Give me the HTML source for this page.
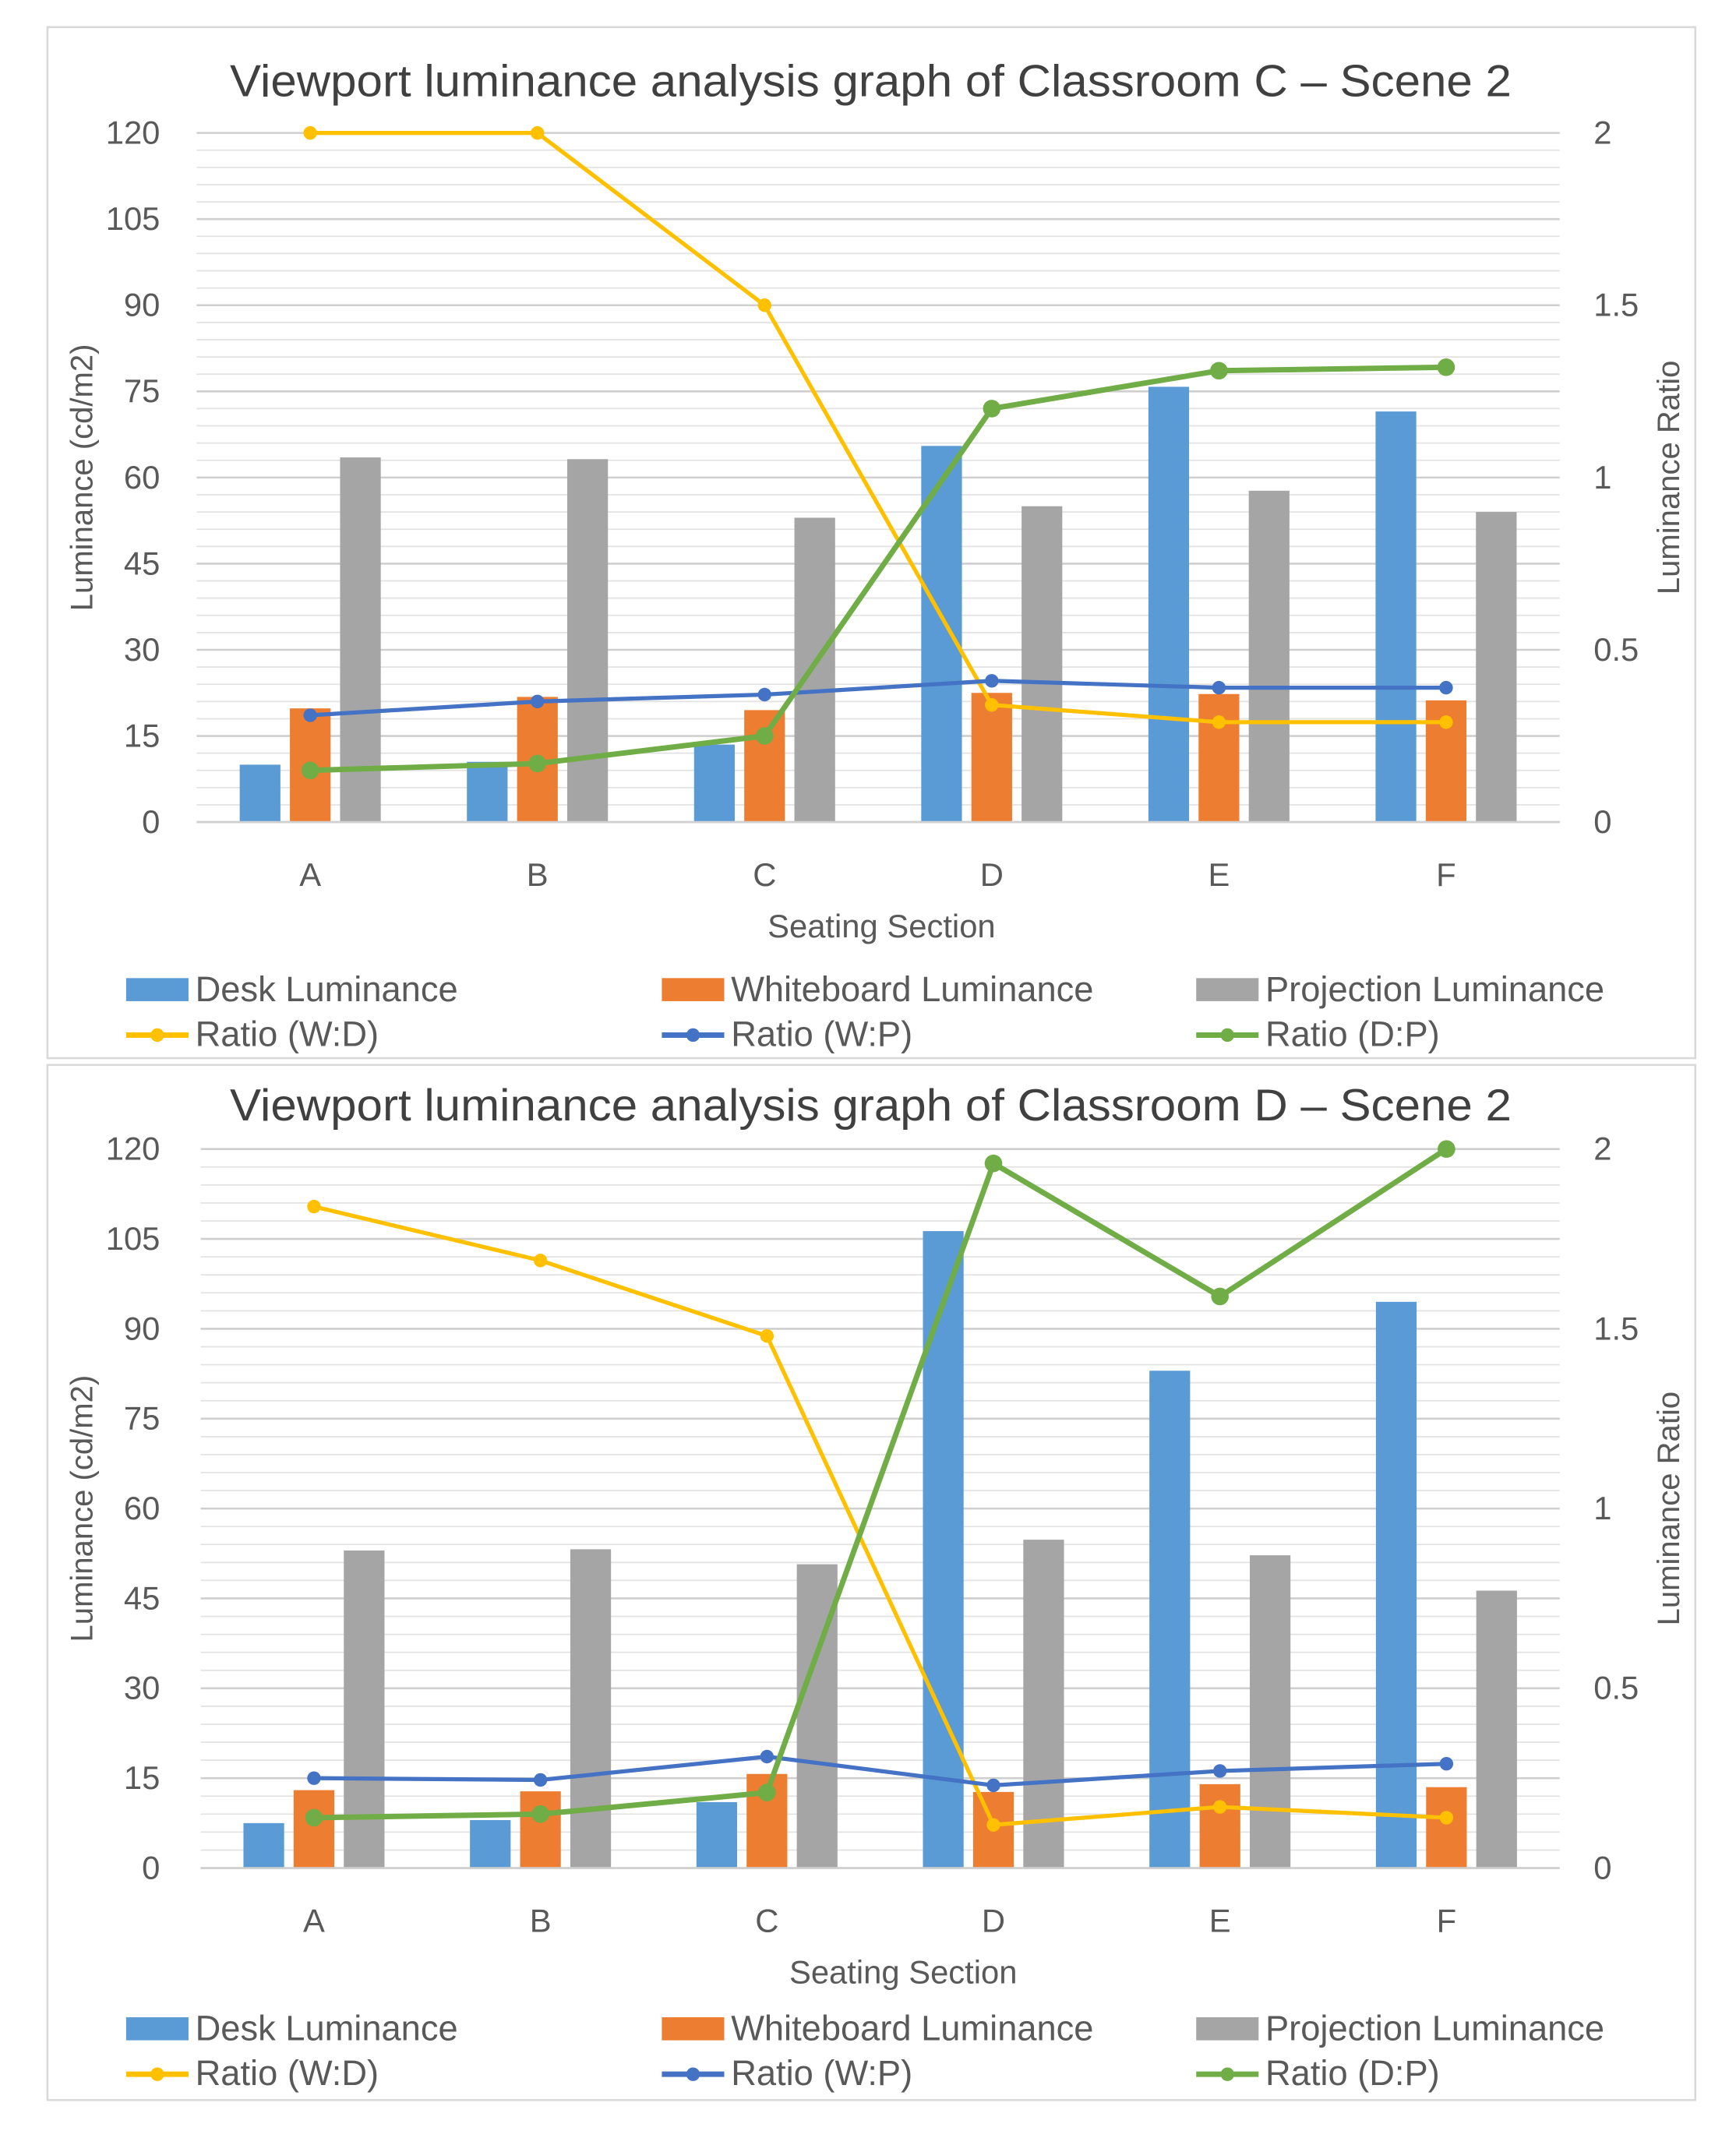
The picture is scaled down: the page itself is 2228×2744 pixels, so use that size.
<!DOCTYPE html>
<html><head><meta charset="utf-8">
<style>
html,body{margin:0;padding:0;background:#fff;}
svg{display:block;font-family:"Liberation Sans Narrow","Liberation Sans",sans-serif;}
</style></head>
<body>
<svg id="root" width="2228" height="2744" viewBox="0 0 1280 1576" preserveAspectRatio="none" xmlns="http://www.w3.org/2000/svg"></svg>
<script>
const categories = ["A","B","C","D","E","F"];
const c1Desk = [10, 10.5, 13.5, 65.5, 75.8, 71.5];
const c1White = [19.8, 21.8, 19.5, 22.5, 22.3, 21.2];
const c1Proj = [63.5, 63.2, 53, 55, 57.7, 54];
const c1WD = [2, 2, 1.5, 0.34, 0.29, 0.29];
const c1WP = [0.31, 0.35, 0.37, 0.41, 0.39, 0.39];
const c1DP = [0.15, 0.17, 0.25, 1.2, 1.31, 1.32];
const c2Desk = [7.5, 8, 11, 106.3, 83, 94.5];
const c2White = [13, 12.8, 15.7, 12.7, 14, 13.5];
const c2Proj = [53, 53.2, 50.7, 54.8, 52.2, 46.3];
const c2WD = [1.84, 1.69, 1.48, 0.12, 0.17, 0.14];
const c2WP = [0.25, 0.245, 0.31, 0.23, 0.27, 0.29];
const c2DP = [0.14, 0.15, 0.21, 1.96, 1.59, 2.0];
const leftTicks = [0,15,30,45,60,75,90,105,120];
const rightTicks = ["0","0.5","1","1.5","2"];

const NS="http://www.w3.org/2000/svg";
const root=document.getElementById('root');
function mk(tag,attrs,parent,text){const e=document.createElementNS(NS,tag);for(const k in attrs)e.setAttribute(k,attrs[k]);if(text!==undefined)e.textContent=text;parent.appendChild(e);return e;}

function chart(cfg){
  const g=mk('g',{},root);
  
  
  const box=mk('rect',{x:cfg.bx,y:cfg.by,width:1215,height:cfg.bh,fill:'#fff',stroke:'#d9d9d9','stroke-width':1.5},g);
  
  
  const t=mk('text',{x:642,y:cfg.titleY,'text-anchor':'middle','font-size':33,fill:'#404040',textLength:945,lengthAdjust:'spacingAndGlyphs'},g,cfg.title);
  
  
  const L=cfg.px0,R=1150,T=cfg.pyT,B=cfg.pyB;
  const yL=v=>B-(v/120)*(B-T);
  const yR=v=>B-(v/2)*(B-T);
  const step=(R-L)/6;
  const xc=i=>L+step*(i+0.5);
  for(let v=0;v<=120;v+=3){
    const ln=mk('line',{x1:L,x2:R,y1:yL(v),y2:yL(v),stroke:v%15===0?'#cfcfcf':'#e2e2e2','stroke-width':v%15===0?1.5:1},g);
    
    
  }
  leftTicks.forEach(v=>{
    const e=mk('text',{x:118,y:yL(v)+8,'text-anchor':'end','font-size':24,fill:'#595959'},g,String(v));
    
    
  });
  rightTicks.forEach(s=>{
    const e=mk('text',{x:1175,y:yR(parseFloat(s))+8,'text-anchor':'start','font-size':24,fill:'#595959'},g,s);
    
    
  });
  const yt=mk('text',{x:0,y:0,'text-anchor':'middle','font-size':23,fill:'#595959','font-family':'Liberation Sans, sans-serif',transform:`translate(68,${(T+B)/2}) rotate(-90)`},g,'Luminance (cd/m2)');
  
  
  const rt=mk('text',{x:0,y:0,'text-anchor':'middle','font-size':23,fill:'#595959','font-family':'Liberation Sans, sans-serif',transform:`translate(1238,${(T+B)/2}) rotate(-90)`},g,'Luminance Ratio');
  
  
  const series=[[cfg.desk,'#5b9bd5',-37,'desk-bar'],[cfg.white,'#ed7d31',0,'whiteboard-bar'],[cfg.proj,'#a5a5a5',37,'projection-bar']];
  series.forEach(([arr,col,off,nm])=>{
    arr.forEach((v,i)=>{
      const r=mk('rect',{x:xc(i)+off-15,y:yL(v),width:30,height:B-yL(v),fill:col},g);
      
      
    });
  });
  const ax=mk('line',{x1:L,x2:R,y1:B,y2:B,stroke:'#d0d0d0','stroke-width':1.5},g);
  
  
  categories.forEach((c,i)=>{
    const e=mk('text',{x:xc(i),y:B+47,'text-anchor':'middle','font-size':24,fill:'#595959'},g,c);
    
    
  });
  const xt=mk('text',{x:cfg.xtX,y:B+85,'text-anchor':'middle','font-size':24,fill:'#595959'},g,'Seating Section');
  
  
  const lines=[[cfg.wd,'#ffc000',3,5,'ratio-wd'],[cfg.wp,'#4472c4',3,5,'ratio-wp'],[cfg.dp,'#70ad47',4,6.5,'ratio-dp']];
  lines.forEach(([arr,col,w,r,nm])=>{
    const pts=arr.map((v,i)=>`${xc(i)},${yR(v)}`).join(' ');
    const pl=mk('polyline',{points:pts,fill:'none',stroke:col,'stroke-width':w},g);
    
    
    arr.forEach((v,i)=>{
      const c=mk('circle',{cx:xc(i),cy:yR(v),r:r,fill:col},g);
      
      
    });
  });
  const legs=[['Desk Luminance','#5b9bd5','bar',93,0],['Whiteboard Luminance','#ed7d31','bar',488,0],['Projection Luminance','#a5a5a5','bar',882,0],
    ['Ratio (W:D)','#ffc000','line',93,1],['Ratio (W:P)','#4472c4','line',488,1],['Ratio (D:P)','#70ad47','line',882,1]];
  legs.forEach(([lab,col,type,x,row])=>{
    const y=cfg.legY+row*33;
    const lg=mk('g',{},g);
    
    
    if(type==='bar') mk('rect',{x:x,y:y-9,width:46,height:17,fill:col},lg);
    else {mk('line',{x1:x,x2:x+46,y1:y,y2:y,stroke:col,'stroke-width':4},lg);mk('circle',{cx:x+23,cy:y,r:5,fill:col},lg);}
    mk('text',{x:x+51,y:y+8,'font-size':26,fill:'#595959'},lg,lab);
  });
}
chart({name:'chart-classroom-c',title:'Viewport luminance analysis graph of Classroom C – Scene 2',bx:35,by:20,bh:760,titleY:71,px0:145,pyT:98,pyB:606,xtX:650,legY:730,
  desk:c1Desk,white:c1White,proj:c1Proj,wd:c1WD,wp:c1WP,dp:c1DP});
chart({name:'chart-classroom-d',title:'Viewport luminance analysis graph of Classroom D – Scene 2',bx:35,by:785,bh:763,titleY:826,px0:148,pyT:847,pyB:1377,xtX:666,legY:1496,
  desk:c2Desk,white:c2White,proj:c2Proj,wd:c2WD,wp:c2WP,dp:c2DP});
</script>
</body></html>
